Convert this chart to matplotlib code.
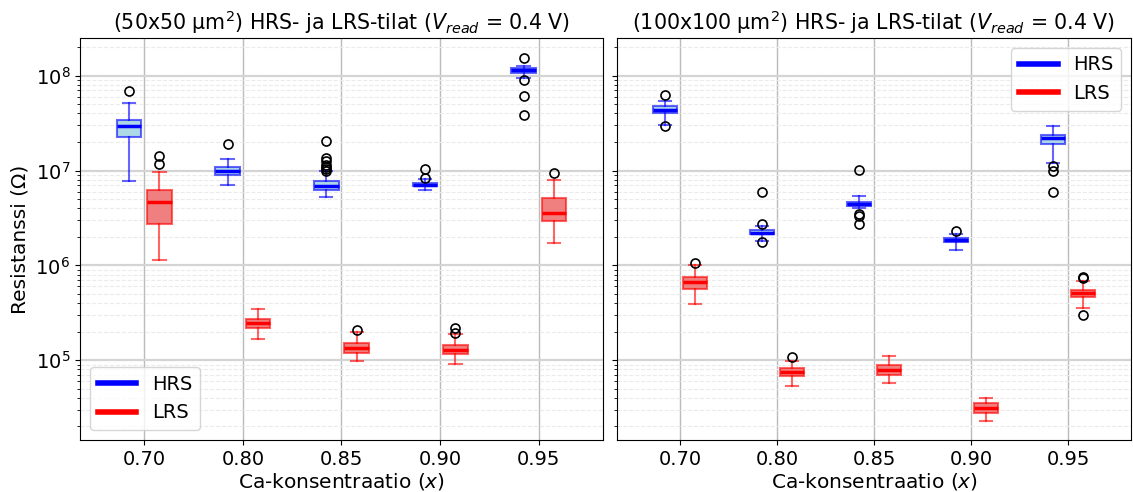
import matplotlib
matplotlib.use("agg")
import matplotlib.pyplot as plt
from matplotlib.lines import Line2D

conc_labels = ['0.70', '0.80', '0.85', '0.90', '0.95']

# box stats per concentration: [whislo, q1, med, q3, whishi]
hrs_50 = [[7.7e6, 2.24e7, 2.96e7, 3.4e7, 5.1e7],
          [7.1e6, 9.0e6, 1.0e7, 1.1e7, 1.32e7],
          [5.3e6, 6.3e6, 6.8e6, 7.7e6, 9.8e6],
          [6.2e6, 6.8e6, 7.1e6, 7.4e6, 8.1e6],
          [9.5e7, 1.08e8, 1.15e8, 1.2e8, 1.26e8]]
hrs_50_fliers = [[6.9e7],
                 [1.9e7],
                 [2.04e7, 1.35e7, 1.25e7, 1.15e7, 1.08e7, 1.03e7, 1.0e7],
                 [1.04e7, 8.4e6],
                 [1.53e8, 9.0e7, 6.1e7, 3.9e7]]
lrs_50 = [[1.15e6, 2.7e6, 4.7e6, 6.2e6, 9.6e6],
          [1.68e5, 2.2e5, 2.46e5, 2.73e5, 3.5e5],
          [9.8e4, 1.2e5, 1.35e5, 1.51e5, 2.0e5],
          [9.1e4, 1.17e5, 1.29e5, 1.45e5, 1.87e5],
          [1.74e6, 2.96e6, 3.6e6, 5.1e6, 8.0e6]]
lrs_50_fliers = [[1.43e7, 1.18e7],
                 [],
                 [2.07e5],
                 [2.2e5, 1.94e5],
                 [9.5e6]]

hrs_100 = [[3.05e7, 4.05e7, 4.4e7, 4.75e7, 5.4e7],
           [1.82e6, 2.12e6, 2.22e6, 2.34e6, 2.58e6],
           [4.0e6, 4.24e6, 4.45e6, 4.7e6, 5.35e6],
           [1.45e6, 1.77e6, 1.86e6, 1.95e6, 2.15e6],
           [1.2e7, 1.9e7, 2.2e7, 2.4e7, 2.93e7]]
hrs_100_fliers = [[6.3e7, 2.95e7],
                  [5.9e6, 2.7e6, 1.75e6],
                  [1.02e7, 3.45e6, 3.3e6, 2.76e6],
                  [2.33e6],
                  [1.12e7, 1.0e7, 5.9e6]]
lrs_100 = [[3.9e5, 5.65e5, 6.7e5, 7.6e5, 1.02e6],
           [5.4e4, 6.8e4, 7.5e4, 8.2e4, 9.9e4],
           [5.7e4, 6.9e4, 7.9e4, 8.8e4, 1.11e5],
           [2.3e4, 2.75e4, 3.1e4, 3.5e4, 4.0e4],
           [3.55e5, 4.65e5, 5.1e5, 5.5e5, 6.9e5]]
lrs_100_fliers = [[1.06e6],
                  [1.07e5],
                  [],
                  [],
                  [7.6e5, 7.4e5, 3.0e5]]


def make_stats(boxes, fliers):
    stats = []
    for b, f in zip(boxes, fliers):
        stats.append({'whislo': b[0], 'q1': b[1], 'med': b[2], 'q3': b[3],
                      'whishi': b[4], 'fliers': f})
    return stats


def draw_boxes(ax, boxes, fliers, offset, edge, face, med):
    pos = [i + 1 + offset for i in range(len(boxes))]
    ax.bxp(make_stats(boxes, fliers), positions=pos, widths=0.25,
           patch_artist=True, manage_ticks=False,
           boxprops=dict(facecolor=face, edgecolor=edge, linewidth=1.5),
           whiskerprops=dict(color=edge, linewidth=1.5),
           capprops=dict(color=edge, linewidth=1.5),
           medianprops=dict(color=med, linewidth=2.5),
           flierprops=dict(marker='o', markerfacecolor='none',
                           markeredgecolor='black', markersize=6.5,
                           markeredgewidth=1.2))


fig = plt.figure(figsize=(11.33, 4.92), dpi=100)
ax1 = fig.add_axes([80 / 1133, 1 - 440 / 492, 523 / 1133, 402 / 492])
ax2 = fig.add_axes([617 / 1133, 1 - 440 / 492, 514 / 1133, 402 / 492], sharey=ax1)

blue_edge = (0, 0, 1, 0.6)
red_edge = (1, 0, 0, 0.6)

panels = [(ax1, hrs_50, hrs_50_fliers, lrs_50, lrs_50_fliers, '50x50'),
          (ax2, hrs_100, hrs_100_fliers, lrs_100, lrs_100_fliers, '100x100')]

for ax, hb, hf, lb, lf, size in panels:
    ax.set_yscale('log')
    ax.set_axisbelow(True)
    ax.grid(True, which='major', axis='x', color='#bbbbbb', linewidth=1.0)
    ax.grid(True, which='major', axis='y', color='#d4d4d4', linewidth=1.6)
    ax.grid(True, which='minor', axis='y', color='#ebebeb', linestyle='--', linewidth=0.8)
    draw_boxes(ax, hb, hf, -0.155, blue_edge, 'lightblue', 'blue')
    draw_boxes(ax, lb, lf, 0.155, red_edge, 'lightcoral', 'red')
    ax.set_xticks(range(1, len(conc_labels) + 1))
    ax.set_xticklabels(conc_labels)
    ax.set_xlim(0.35, 5.65)
    ax.tick_params(labelsize=14)
    ax.set_xlabel('Ca-konsentraatio ($x$)', fontsize=14.5, labelpad=1.5)
    ax.set_title('(%s μm$^2$) HRS- ja LRS-tilat ($V_{read}$ = 0.4 V)' % size, fontsize=14.8)

ax1.set_ylim(1.44e4, 2.5e8)
ax1.set_ylabel('Resistanssi (Ω)', fontsize=14.5)
ax2.tick_params(axis='y', which='both', labelleft=False)

handles = [Line2D([0], [0], color='blue', lw=4), Line2D([0], [0], color='red', lw=4)]
ax1.legend(handles, ['HRS', 'LRS'], loc='lower left', fontsize=14)
ax2.legend(handles, ['HRS', 'LRS'], loc='upper right', fontsize=14)

fig.savefig('out.png', dpi=100)
